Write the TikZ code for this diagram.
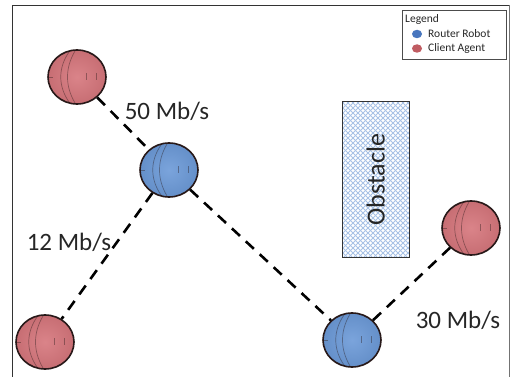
\documentclass[tikz,border=0pt]{standalone}
\usepackage{fontspec}
\setmainfont{Carlito}
\usetikzlibrary{shapes.geometric}
\definecolor{robotred}{RGB}{214,118,124}
\definecolor{robotblue}{RGB}{108,154,216}
\definecolor{rimdark}{RGB}{40,25,25}
\definecolor{hatch}{RGB}{168,194,230}
\definecolor{iconblue}{RGB}{72,118,190}
\definecolor{iconred}{RGB}{192,92,98}

\begin{document}
\begin{tikzpicture}[x=1pt,y=-1pt,
  robot/.style={ellipse, draw=rimdark, line width=1.6pt,
    minimum width=58pt, minimum height=54pt, inner sep=0pt},
  client/.style={robot, inner color=robotred!90!white, outer color=robotred!93!black},
  router/.style={robot, inner color=robotblue!90!white, outer color=robotblue!93!black},
  link/.style={black, line width=2.6pt, dash pattern=on 11pt off 8pt},
  rate/.style={font=\fontsize{25}{30}\selectfont, text=black!85, inner sep=0pt},
  legendtext/.style={font=\fontsize{11.5}{13}\selectfont, text=black!85,
    anchor=west, inner sep=0pt},
  legendicon/.style={ellipse, minimum width=10pt, minimum height=8.5pt, inner sep=0pt},
  wheel/.style={rimdark, line width=0.7pt, opacity=0.4}
]
\useasboundingbox (0,0) rectangle (511,377);

% outer frame
\draw[black!80, line width=0.9pt] (12.5,377) -- (12.5,5) -- (509.5,5);
\draw[black!55, line width=0.9pt] (509.5,5) -- (509.5,377);

% obstacle block with a diagonal mesh
\node[minimum width=67pt, minimum height=155pt, inner sep=0pt, anchor=north west]
  (obstacle) at (342,102) {};
\begin{scope}
  \clip (obstacle.north west) rectangle (obstacle.south east);
  \foreach \i in {-160,-155,...,75} {
    \draw[hatch, line width=0.9pt] (342+\i,102) -- ++(160,160);
    \draw[hatch, line width=0.9pt] (409-\i,102) -- ++(-160,160);
  }
\end{scope}
\draw[black!80, line width=1pt] (obstacle.north west) rectangle (obstacle.south east);
\node[rotate=90, font=\fontsize{26}{30}\selectfont, text=black!85, inner sep=0pt]
  (obstaclelabel) at (obstacle.center) {Obstacle};

% robots
\node[client] (clientA) at (77,77) {};
\node[router] (routerA) at (169,170) {};
\node[client] (clientB) at (45,342) {};
\node[router] (routerB) at (352,340) {};
\node[client] (clientC) at (471,228) {};

% wheel sketch lines on each robot
\foreach \n in {clientA,routerA,clientB,routerB,clientC} {
  \begin{scope}[shift={(\n.center)}]
    \draw[wheel] (-8,-25) .. controls (-19,-9) and (-19,9) .. (-8,25);
    \draw[wheel] (-2,-26) .. controls (-12,-9) and (-12,9) .. (-2,26);
    \draw[wheel] (9,-4) -- (9,3);
    \draw[wheel] (19,-4) -- (19,3);
    \draw[wheel] (-29,0) -- (-24,0);
  \end{scope}
}

% wireless links
\draw[link] (clientA) -- (routerA);
\draw[link] (routerA) -- (clientB);
\draw[link] (routerA) -- (routerB);
\draw[link] (routerB) -- (clientC);

% link rates
\node[rate] (rateA) at (167,111) {50 Mb/s};
\node[rate] (rateB) at (69,242) {12 Mb/s};
\node[rate] (rateC) at (458,320) {30 Mb/s};

% legend
\node[draw=black!70, line width=0.8pt, minimum width=104pt, minimum height=49pt,
  inner sep=0pt, anchor=north west] (legend) at (402,10) {};
\node[legendtext] (legendtitle) at (405,19) {Legend};
\node[legendicon, fill=iconblue] (iconrouter) at (417,34) {};
\node[legendtext] (textrouter) at (428,34) {Router Robot};
\node[legendicon, fill=iconred] (iconclient) at (417,48.5) {};
\node[legendtext] (textclient) at (428,48.5) {Client Agent};
\end{tikzpicture}
\end{document}
